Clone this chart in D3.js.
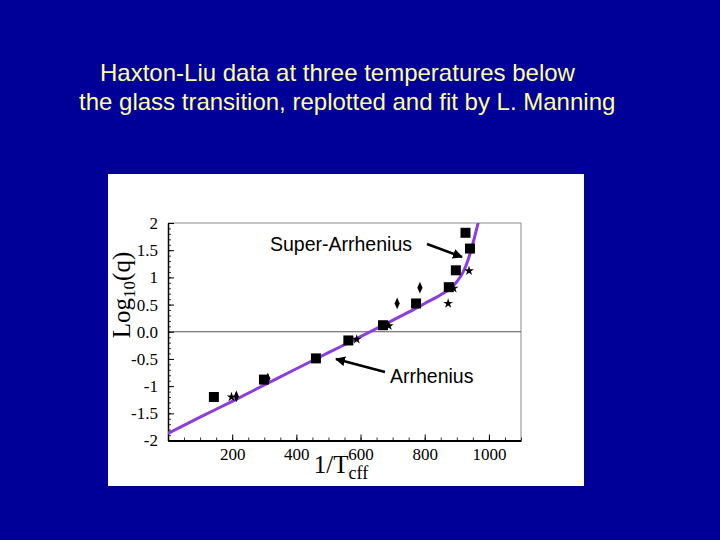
<!DOCTYPE html>
<html>
<head>
<meta charset="utf-8">
<script src="https://cdn.jsdelivr.net/npm/d3@7"></script>
<style>
  body { margin: 0; background: #000099; }
  svg { display: block; }
</style>
</head>
<body>
<svg id="chart" width="720" height="540"></svg>
<script>
// Data: x = 1/Teff, y = log10(q)
const squareX = [143, 299, 461, 562, 670, 773, 875, 897, 941, 927];
const squareY = [-1.20, -0.88, -0.49, -0.16, 0.12, 0.52, 0.82, 1.13, 1.53, 1.82];
const starX = [198, 588, 688, 873, 890, 938];
const starY = [-1.20, -0.14, 0.11, 0.52, 0.80, 1.12];
const diamondX = [213, 311, 714, 785];
const diamondY = [-1.19, -0.86, 0.52, 0.81];

// fit curve (Manning)
const fitX = [0, 100, 200, 300, 400, 500, 600, 700, 750, 800, 850, 880, 900, 920, 935, 950, 960, 970];
const fitY = [-1.87, -1.57, -1.28, -0.98, -0.68, -0.385, -0.09, 0.21, 0.36, 0.52, 0.68, 0.80, 0.92, 1.10, 1.32, 1.62, 1.85, 2.08];

const xTicks = [200, 400, 600, 800, 1000];
const yTicks = [-2, -1.5, -1, -0.5, 0, 0.5, 1, 1.5, 2];
const yTickLabels = ["-2", "-1.5", "-1", "-0.5", "0.0", "0.5", "1", "1.5", "2"];

const titleLines = [
  "Haxton-Liu data at three temperatures below",
  "the glass transition, replotted and fit by L. Manning"
];

const svg = d3.select("#chart");
const sans = "Liberation Sans, Arial, sans-serif";
const serif = "Liberation Serif, Times New Roman, serif";

// dark blue slide background
svg.append("rect").attr("width", 720).attr("height", 540).attr("fill", "#000099");

// title
svg.append("text").attr("x", 100).attr("y", 81)
  .attr("font-family", sans).attr("font-size", 24)
  .attr("fill", "#ffff99").text(titleLines[0]);
svg.append("text").attr("x", 79).attr("y", 110)
  .attr("font-family", sans).attr("font-size", 24)
  .attr("fill", "#ffff99").text(titleLines[1]);

// white panel
svg.append("rect").attr("x", 108).attr("y", 174).attr("width", 476).attr("height", 312).attr("fill", "#fff");

const margin = { top: 223, left: 168 };
const width = 521 - 168;
const height = 440.5 - 223;
const g = svg.append("g").attr("transform", `translate(${margin.left},${margin.top})`);

const x = d3.scaleLinear().domain([0, 1100]).range([0, width]);
const y = d3.scaleLinear().domain([-2, 2]).range([height, 0]);

// frame top/right
g.append("line").attr("x1", 0).attr("x2", width).attr("y1", 0).attr("y2", 0).attr("stroke", "#888").attr("stroke-width", 1);
g.append("line").attr("x1", width).attr("x2", width).attr("y1", 0).attr("y2", height).attr("stroke", "#888").attr("stroke-width", 1);

// zero line
g.append("line").attr("x1", 0).attr("x2", width).attr("y1", y(0)).attr("y2", y(0)).attr("stroke", "#555").attr("stroke-width", 1.2);

// minor ticks
const yMinor = d3.range(-20, 21).map(d => d / 10);
g.append("g").call(d3.axisRight(y).tickValues(yMinor).tickSize(3).tickFormat(""))
  .call(a => a.select(".domain").remove())
  .selectAll("line").attr("stroke", "#333");
const xMinor = d3.range(0, 1101, 50);
g.append("g").attr("transform", `translate(0,${height})`)
  .call(d3.axisTop(x).tickValues(xMinor).tickSize(3).tickFormat(""))
  .call(a => a.select(".domain").remove())
  .selectAll("line").attr("stroke", "#333");

// Y axis
const yAxis = g.append("g").call(d3.axisLeft(y).tickValues(yTicks).tickSize(-6).tickSizeOuter(0).tickPadding(10)
  .tickFormat((d, i) => yTickLabels[i]));
yAxis.select(".domain").attr("stroke", "#000").attr("stroke-width", 1.5);
yAxis.selectAll("text").attr("font-family", serif).attr("font-size", 17).attr("fill", "#000");

// X axis
const xAxis = g.append("g").attr("transform", `translate(0,${height})`)
  .call(d3.axisBottom(x).tickValues(xTicks).tickSize(-6).tickSizeOuter(0).tickPadding(7).tickFormat(d3.format("d")));
xAxis.select(".domain").attr("stroke", "#000").attr("stroke-width", 2);
xAxis.selectAll("text").attr("font-family", serif).attr("font-size", 17).attr("fill", "#000");

// axis titles
const yTitle = svg.append("text").attr("transform", "translate(130,295) rotate(-90)")
  .attr("text-anchor", "middle").attr("font-family", serif).attr("font-size", 25).attr("fill", "#000");
yTitle.append("tspan").text("Log");
yTitle.append("tspan").attr("font-size", 17).attr("dy", 5).text("10");
yTitle.append("tspan").attr("dy", -5).text("(q)");

const xTitle = svg.append("text").attr("x", 341).attr("y", 473)
  .attr("text-anchor", "middle").attr("font-family", serif).attr("font-size", 25).attr("fill", "#000");
xTitle.append("tspan").text("1/T");
xTitle.append("tspan").attr("font-size", 18).attr("dy", 6).text("cff");

// fit curve, clipped to plot area
svg.append("clipPath").attr("id", "clip").append("rect").attr("width", width).attr("height", height);
const fit = fitX.map((d, i) => ({ x: d, y: fitY[i] }));
g.append("path").datum(fit)
  .attr("clip-path", "url(#clip)")
  .attr("fill", "none").attr("stroke", "#8a3ee0").attr("stroke-width", 3)
  .attr("d", d3.line().x(d => x(d.x)).y(d => y(d.y)).curve(d3.curveMonotoneX));

// markers
const squares = squareX.map((d, i) => ({ x: d, y: squareY[i] }));
const stars = starX.map((d, i) => ({ x: d, y: starY[i] }));
const diamonds = diamondX.map((d, i) => ({ x: d, y: diamondY[i] }));

g.selectAll(".sq").data(squares).enter().append("rect").attr("class", "sq")
  .attr("x", d => x(d.x) - 5).attr("y", d => y(d.y) - 5)
  .attr("width", 10).attr("height", 10).attr("fill", "#000");

g.selectAll(".star").data(stars).enter().append("path").attr("class", "star")
  .attr("transform", d => `translate(${x(d.x)},${y(d.y)})`)
  .attr("d", d3.symbol().type(d3.symbolStar).size(30)).attr("fill", "#000");

g.selectAll(".dia").data(diamonds).enter().append("path").attr("class", "dia")
  .attr("transform", d => `translate(${x(d.x)},${y(d.y)}) scale(0.8,1.05)`)
  .attr("d", d3.symbol().type(d3.symbolDiamond).size(36)).attr("fill", "#000");

// annotations
svg.append("defs").append("marker").attr("id", "arrow").attr("viewBox", "0 0 10 10")
  .attr("refX", 9).attr("refY", 5).attr("markerWidth", 4).attr("markerHeight", 4).attr("orient", "auto")
  .append("path").attr("d", "M0,0 L10,5 L0,10 z").attr("fill", "#000");

svg.append("text").attr("x", 270).attr("y", 251).attr("font-family", sans)
  .attr("font-size", 19.5).attr("fill", "#000").text("Super-Arrhenius");
svg.append("line").attr("x1", 427).attr("y1", 244).attr("x2", 462).attr("y2", 257)
  .attr("stroke", "#000").attr("stroke-width", 2.5).attr("marker-end", "url(#arrow)");

svg.append("text").attr("x", 390).attr("y", 383).attr("font-family", sans)
  .attr("font-size", 19.5).attr("fill", "#000").text("Arrhenius");
svg.append("line").attr("x1", 385).attr("y1", 372).attr("x2", 336).attr("y2", 359)
  .attr("stroke", "#000").attr("stroke-width", 2.5).attr("marker-end", "url(#arrow)");
</script>
</body>
</html>
